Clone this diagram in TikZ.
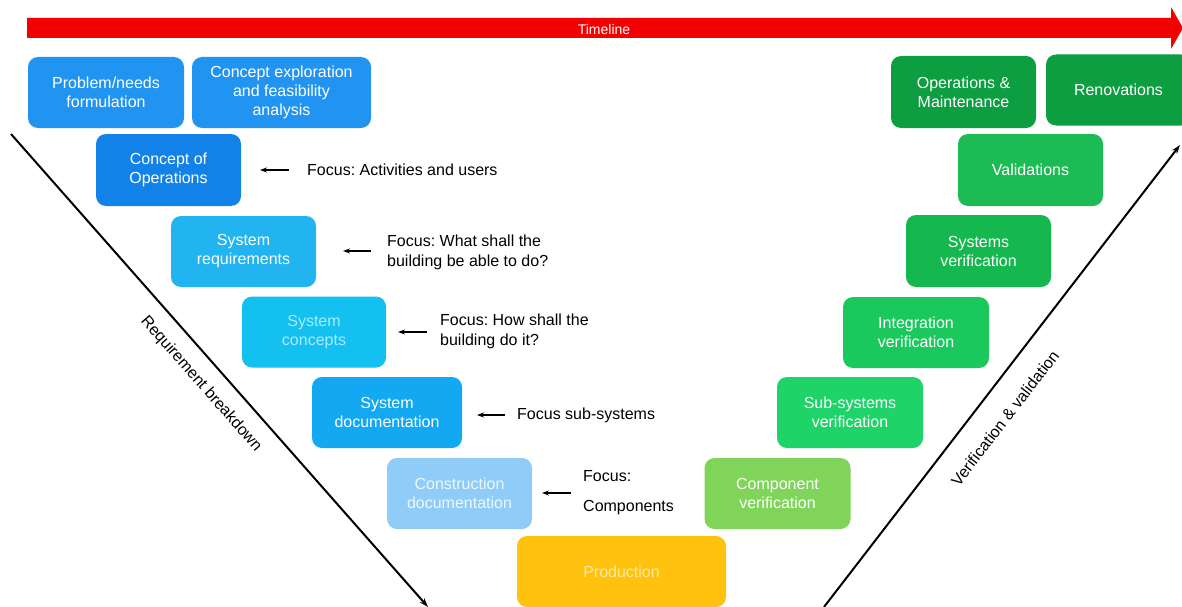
\documentclass[tikz,border=0pt]{standalone}
\usepackage{fontspec}
\setmainfont{Liberation Sans}
\usetikzlibrary{arrows.meta}
\frenchspacing
\definecolor{cA}{HTML}{2194F2}
\definecolor{cB}{HTML}{1282E8}
\definecolor{cC}{HTML}{22B4F0}
\definecolor{cD}{HTML}{14C0F0}
\definecolor{cE}{HTML}{12A8F2}
\definecolor{cF}{HTML}{90CCF8}
\definecolor{cP}{HTML}{FFC20E}
\definecolor{gA}{HTML}{80D45A}
\definecolor{gB}{HTML}{1ED368}
\definecolor{gC}{HTML}{1AC85C}
\definecolor{gD}{HTML}{14B84E}
\definecolor{gE}{HTML}{1DBB54}
\definecolor{gF}{HTML}{0E9E42}
\definecolor{tlred}{HTML}{F50000}
\definecolor{lcyan}{HTML}{A8EAFF}
\definecolor{lyel}{HTML}{FFE9A8}
\definecolor{lblu}{HTML}{EEF7FF}
\tikzset{
  box/.style={rounded corners=10pt, inner sep=0pt, align=center, text=white,
    font=\fontsize{16}{19}\selectfont},
  focustext/.style={anchor=west, align=left, inner sep=0pt, text=black,
    font=\fontsize{16}{20}\selectfont},
  focusarrow/.style={-{Stealth[length=7pt,width=5pt]}, line width=1.4pt},
  vline/.style={-{Stealth[length=9pt,width=6pt]}, line width=2pt},
  vlabel/.style={inner sep=0pt, font=\fontsize{16}{19}\selectfont}
}
\begin{document}
\begin{tikzpicture}[x=1pt,y=-1pt]
\useasboundingbox[fill=white] (0,0) rectangle (1182,607);
% timeline
\fill[tlred] (27,18) -- (1171,18) -- (1171,7) -- (1183,28) -- (1171,49) -- (1171,38) -- (27,38) -- cycle;
\node[inner sep=0pt, text=white, font=\fontsize{14}{16}\selectfont] (tl) at (604,29) {Timeline};
% left boxes
\node[box, fill=cA, minimum width=156pt, minimum height=71pt] (prob) at (106,92.5) {Problem/needs\\formulation};
\node[box, fill=cA, minimum width=179pt, minimum height=71pt] (explo) at (281.5,92.5) {Concept exploration\\and feasibility\\analysis};
\node[box, fill=cB, minimum width=145pt, minimum height=72pt] (conops) at (168.5,170) {Concept of\\Operations};
\node[box, fill=cC, minimum width=145pt, minimum height=71pt] (sysreq) at (243.5,251.5) {System\\requirements};
\node[box, fill=cD, text=lcyan, minimum width=144pt, minimum height=71pt] (syscon) at (314,332) {System\\concepts};
\node[box, fill=cE, minimum width=150pt, minimum height=71pt] (sysdoc) at (387,412.5) {System\\documentation};
\node[box, fill=cF, text=lblu, minimum width=145pt, minimum height=71pt] (constr) at (459.5,493.5) {Construction\\documentation};
\node[box, fill=cP, text=lyel, minimum width=209pt, minimum height=71pt] (prod) at (621.5,571.5) {Production};
% right boxes
\node[box, fill=gA, minimum width=146pt, minimum height=71pt] (comp) at (777.5,493.5) {Component\\verification};
\node[box, fill=gB, minimum width=146pt, minimum height=71pt] (subsys) at (850,412.5) {Sub-systems\\verification};
\node[box, fill=gC, minimum width=146pt, minimum height=71pt] (integ) at (916,332.5) {Integration\\verification};
\node[box, fill=gD, minimum width=145pt, minimum height=72pt] (sysver) at (978.5,251) {Systems\\verification};
\node[box, fill=gE, minimum width=145pt, minimum height=72pt] (valid) at (1030.5,170) {Validations};
\node[box, fill=gF, minimum width=145pt, minimum height=72pt] (opsm) at (963.5,92) {Operations \&\\Maintenance};
\node[box, fill=gF, minimum width=145pt, minimum height=71pt] (renov) at (1118.5,90) {Renovations};
% focus annotations
\node[focustext] (f1) at (307,170) {Focus: Activities and users};
\node[focustext] (f2) at (387,252) {Focus: What shall the\\building be able to do?};
\node[focustext] (f3) at (440,331) {Focus: How shall the\\building do it?};
\node[focustext] (f4) at (517,415) {Focus sub-systems};
\node[focustext, font=\fontsize{16}{30}\selectfont] (f5) at (583,493) {Focus:\\Components};
\coordinate (a1s) at (289,170); \coordinate (a1e) at (260,170);
\coordinate (a2s) at (371,251); \coordinate (a2e) at (343,251);
\coordinate (a3s) at (427,332); \coordinate (a3e) at (398,332);
\coordinate (a4s) at (505,415); \coordinate (a4e) at (477,415);
\coordinate (a5s) at (571,493); \coordinate (a5e) at (542,493);
\draw[focusarrow] (a1s) -- (a1e);
\draw[focusarrow] (a2s) -- (a2e);
\draw[focusarrow] (a3s) -- (a3e);
\draw[focusarrow] (a4s) -- (a4e);
\draw[focusarrow] (a5s) -- (a5e);
% V lines
\coordinate (ls) at (11,134); \coordinate (le) at (428,607);
\coordinate (rs) at (824,607); \coordinate (re) at (1180,145);
\draw[vline] (ls) -- (le);
\draw[vline] (rs) -- (re);
\node[vlabel, rotate=-48.6] (lreq) at (201,384) {Requirement breakdown};
\node[vlabel, rotate=52.4] (lver) at (1005,418) {Verification \& validation};
\end{tikzpicture}
\end{document}
